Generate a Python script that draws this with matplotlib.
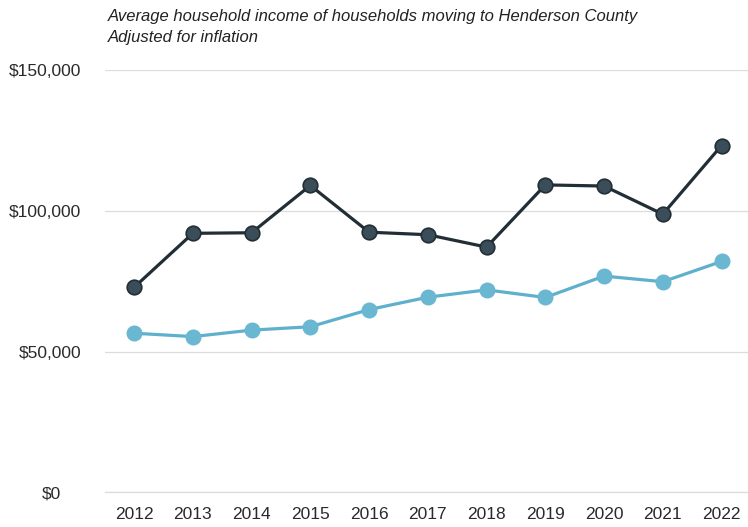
import matplotlib
matplotlib.use("Agg")
import matplotlib.pyplot as plt
from matplotlib.ticker import FuncFormatter
import matplotlib.transforms as mtransforms

years = [2012, 2013, 2014, 2015, 2016, 2017, 2018, 2019, 2020, 2021, 2022]
movers_income = [72800, 92000, 92200, 109000, 92400, 91500, 87100, 109200, 108800, 98800, 123200]
county_income = [56500, 55300, 57600, 58800, 64900, 69300, 71900, 69200, 76800, 74800, 82000]
y_ticks = [0, 50000, 100000, 150000]
title_text = ("Average household income of households moving to Henderson County\n"
              "Adjusted for inflation")

plt.rcParams["font.family"] = ["Liberation Sans", "DejaVu Sans"]

fig = plt.figure(figsize=(7.48, 5.27), dpi=100)
ax = fig.add_axes([0.140, 0.066, 0.860, 0.801])

dark = "#222e35"
dark_marker = "#3a4d58"
light = "#5fb0cc"
light_marker = "#6ab7d1"

ax.plot(years, movers_income, color=dark, lw=2.3, marker="o", ms=10.5,
        mfc=dark_marker, mec=dark, mew=1.2, clip_on=False, zorder=3)
ax.plot(years, county_income, color=light, lw=2.3, marker="o", ms=10.5,
        mfc=light_marker, mec=light_marker, mew=1.0, clip_on=False, zorder=3)

ax.set_xlim(2011.5, 2022.45)
ax.set_ylim(0, 150000)
ax.set_xticks(years)
ax.set_yticks(y_ticks)
ax.yaxis.set_major_formatter(FuncFormatter(lambda v, p: f"${v:,.0f}"))

ax.grid(axis="y", color="#dcdcdc", lw=0.9)
ax.axhline(0, color="#dcdcdc", lw=0.9, clip_on=False, zorder=0)
ax.set_axisbelow(True)
for s in ax.spines.values():
    s.set_visible(False)
ax.tick_params(axis="both", length=0, labelsize=12.5, colors="#2a2a2a")
ax.tick_params(axis="y", pad=17)
ax.tick_params(axis="x", pad=11)

# the zero label sits further left than the others
fig.canvas.draw()
labels = ax.get_yticklabels()
labels[0].set_transform(labels[0].get_transform() +
                        mtransforms.ScaledTranslation(-0.2, 0, fig.dpi_scale_trans))

fig.text(0.144, 0.983, title_text, ha="left", va="top", fontsize=12.0,
         style="italic", color="#222222", linespacing=1.5)

fig.savefig("out.png", dpi=100, facecolor="white")
